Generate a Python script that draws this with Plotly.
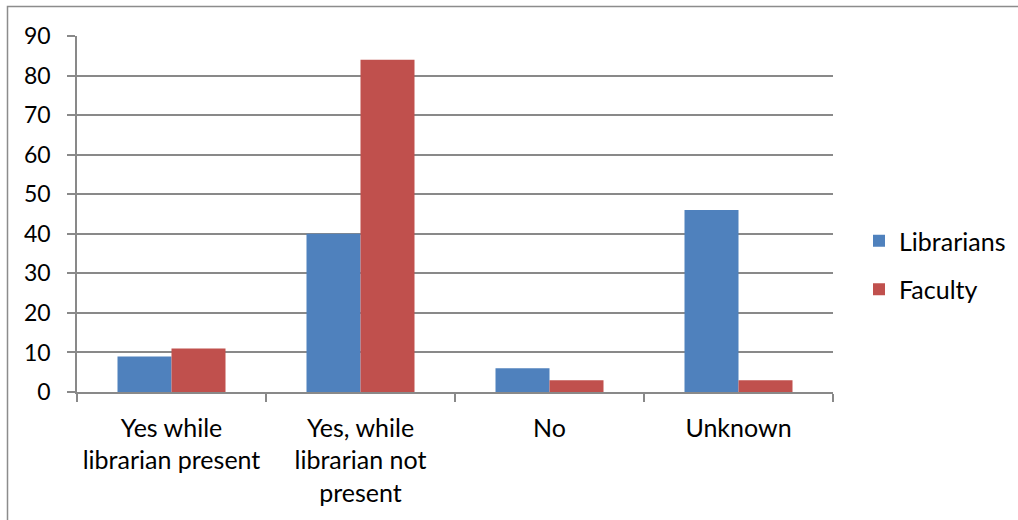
import plotly.graph_objects as go

categories = ["Yes while<br>librarian present", "Yes, while<br>librarian not<br>present", "No", "Unknown"]
librarians = [9, 40, 6, 46]
faculty = [11, 84, 3, 3]
y_ticks = [0, 10, 20, 30, 40, 50, 60, 70, 80, 90]

FONT = "Lato"
GRID = "#898989"

fig = go.Figure()
fig.add_trace(go.Bar(x=categories, y=librarians, name="Librarians",
                     marker=dict(color="#4F81BD", line=dict(width=0)), legendgroup="a"))
fig.add_trace(go.Bar(x=categories, y=faculty, name="Faculty",
                     marker=dict(color="#C0504D", line=dict(width=0)), legendgroup="b"))

W, H = 1018, 520
L, R, T, B = 77, 833, 36, 392
fig.update_layout(
    width=W, height=H,
    margin=dict(l=L, r=W - R, t=T, b=H - B, autoexpand=False),
    paper_bgcolor="white", plot_bgcolor="white",
    font=dict(family=FONT, size=24, color="#000000"),
    bargap=0.4286, bargroupgap=0,
    showlegend=True,
    legend=dict(x=(859 - L) / (R - L), y=(B - 218) / (B - T), xanchor="left", yanchor="top",
                traceorder="grouped", tracegroupgap=13,
                font=dict(family=FONT, size=25, color="#000000"),
                bgcolor="rgba(0,0,0,0)"),
    xaxis=dict(showgrid=False, showline=True, linecolor=GRID, linewidth=1.5,
               ticks="outside", ticklen=8, tickcolor=GRID, tickwidth=1.5,
               tickson="boundaries", ticklabelstandoff=13,
               tickfont=dict(family=FONT, size=25, color="#000000")),
    yaxis=dict(range=[0, 90], tickvals=y_ticks, showgrid=True, gridcolor=GRID, gridwidth=1.5,
               showline=True, linecolor=GRID, linewidth=1.5, zeroline=False,
               ticks="outside", ticklen=8, tickcolor=GRID, tickwidth=1.5,
               ticklabelstandoff=12,
               tickfont=dict(family=FONT, size=23, color="#000000")),
)

# chart area border
def px_x(p):
    return (p - L) / (R - L)

def px_y(p):
    return (B - p) / (B - T)

fig.add_shape(type="rect", xref="paper", yref="paper",
              x0=px_x(7.5), x1=px_x(1030), y0=px_y(6.5), y1=px_y(540),
              line=dict(color="#8c8c8c", width=1.5), fillcolor="rgba(0,0,0,0)", layer="below")

fig.write_html("out.html")
